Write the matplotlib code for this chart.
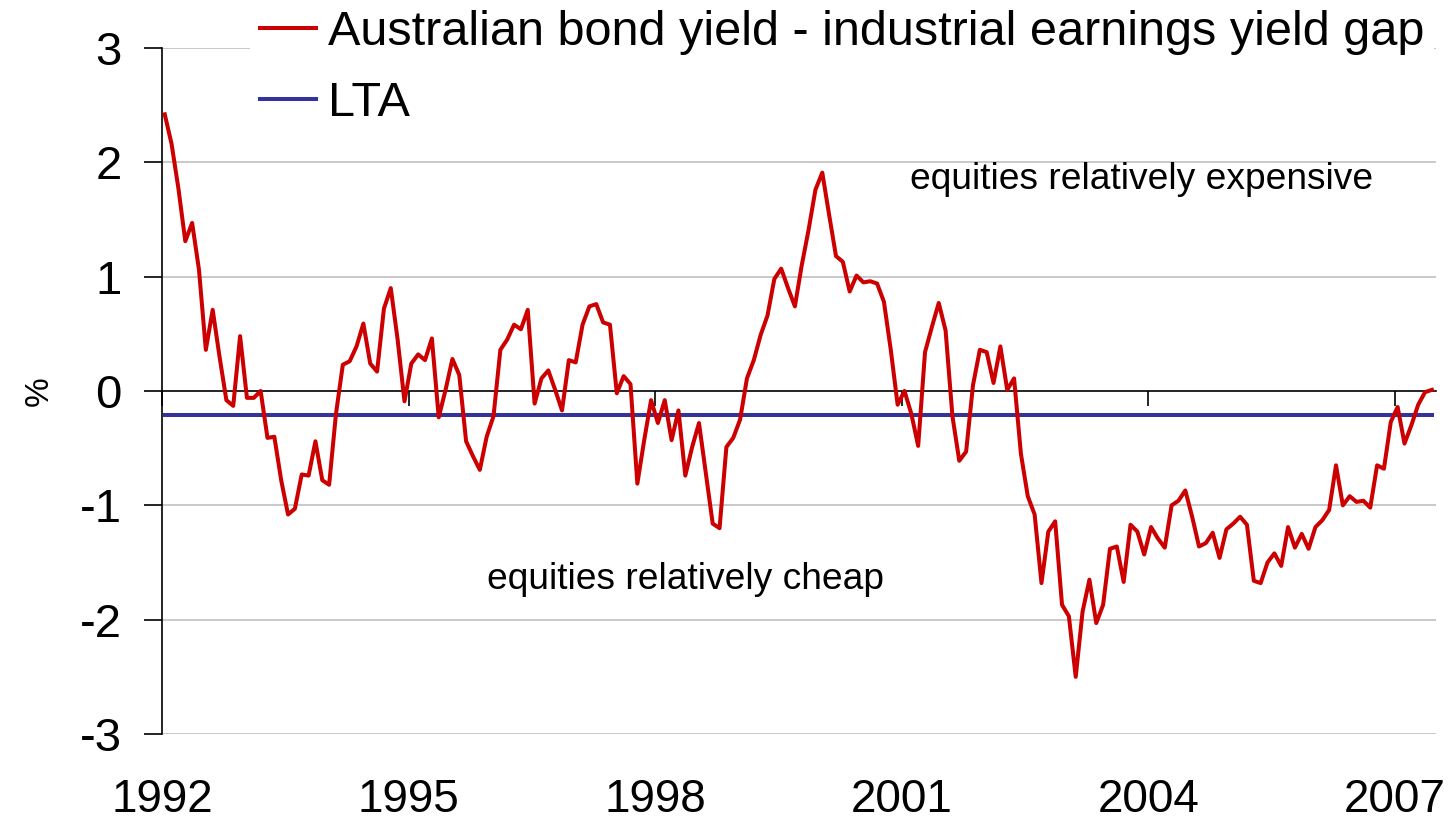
import numpy as np
import matplotlib
matplotlib.use("Agg")
import matplotlib.pyplot as plt

plt.rcParams['font.family'] = ['Liberation Sans', 'DejaVu Sans']
plt.rcParams['axes.unicode_minus'] = False

# monthly gap, Jan 1992 - Jun 2007 (% pts)
gap = [
    2.42, 2.16, 1.77, 1.31, 1.47, 1.06, 0.36, 0.71, 0.30, -0.08, -0.13, 0.48,
    -0.06, -0.06, 0.00, -0.41, -0.40, -0.78, -1.08, -1.03, -0.73, -0.74, -0.44, -0.78,
    -0.82, -0.20, 0.23, 0.26, 0.39, 0.59, 0.24, 0.17, 0.72, 0.90, 0.45, -0.09,
    0.24, 0.32, 0.27, 0.46, -0.23, 0.01, 0.28, 0.14, -0.44, -0.57, -0.69, -0.40,
    -0.22, 0.36, 0.45, 0.58, 0.54, 0.71, -0.11, 0.11, 0.18, 0.01, -0.17, 0.27,
    0.25, 0.58, 0.74, 0.76, 0.60, 0.58, -0.02, 0.13, 0.06, -0.81, -0.43, -0.08,
    -0.28, -0.08, -0.43, -0.17, -0.74, -0.49, -0.28, -0.72, -1.16, -1.20, -0.49, -0.41,
    -0.25, 0.11, 0.27, 0.49, 0.66, 0.98, 1.07, 0.90, 0.74, 1.10, 1.41, 1.76,
    1.91, 1.54, 1.18, 1.13, 0.87, 1.01, 0.95, 0.96, 0.94, 0.78, 0.36, -0.12,
    0.00, -0.20, -0.48, 0.34, 0.56, 0.77, 0.53, -0.22, -0.61, -0.53, 0.05, 0.36,
    0.34, 0.07, 0.39, 0.01, 0.11, -0.55, -0.92, -1.08, -1.68, -1.23, -1.14, -1.87,
    -1.97, -2.50, -1.93, -1.65, -2.03, -1.87, -1.38, -1.36, -1.67, -1.17, -1.23, -1.43,
    -1.19, -1.29, -1.37, -1.00, -0.96, -0.87, -1.10, -1.36, -1.33, -1.24, -1.46, -1.21,
    -1.16, -1.10, -1.17, -1.66, -1.68, -1.50, -1.42, -1.53, -1.19, -1.37, -1.25, -1.38,
    -1.19, -1.13, -1.04, -0.65, -1.00, -0.92, -0.97, -0.96, -1.02, -0.65, -0.68, -0.27,
    -0.14, -0.46, -0.30, -0.12, -0.01, 0.01,
]
lta = -0.21
year_ticks = [1992, 1995, 1998, 2001, 2004, 2007]
y_ticks = [-3, -2, -1, 0, 1, 2, 3]

# decimal years, mid-month
t = 1992 + (np.arange(len(gap)) + 0.4) / 12

fig = plt.figure(figsize=(14.53, 8.27), dpi=100)
ax = fig.add_axes([162/1453, 93/827, 1274/1453, 686/827])

for v in y_ticks:
    if v != 0:
        ax.axhline(v, color='#c0c0c0', lw=1.2, zorder=0)

ax.plot(t, gap, color='#cc0000', lw=2.9, label='Australian bond yield - industrial earnings yield gap', zorder=3)
ax.plot([t[0], t[-1]], [lta, lta], color='#333399', lw=2.9, label='LTA', zorder=2)

ax.set_xlim(1992, 2007.5)
ax.set_ylim(-3, 3)

ax.spines['top'].set_visible(False)
ax.spines['right'].set_visible(False)
ax.spines['bottom'].set_position(('data', 0))
ax.spines['bottom'].set_linewidth(1.2)
ax.spines['left'].set_linewidth(1.2)

ax.set_xticks(year_ticks)
ax.tick_params(axis='x', direction='out', length=11, width=1.2, labelbottom=False)
ax.set_yticks(y_ticks)
ax.set_yticklabels([str(v) for v in y_ticks])
ax.tick_params(axis='y', direction='out', length=13, width=1.2, pad=16, labelsize=34)

# year labels sit at the bottom of the plot area
sec = ax.secondary_xaxis('bottom')
sec.set_xticks(year_ticks)
sec.set_xticklabels([str(y) for y in year_ticks])
sec.spines['bottom'].set_visible(False)
sec.tick_params(length=0, pad=32, labelsize=33)

ax.set_ylabel('%', fontsize=24, labelpad=18)

ax.text(2001.1, 1.85, 'equities relatively expensive', fontsize=26.7, ha='left', va='center')
ax.text(1995.95, -1.65, 'equities relatively cheap', fontsize=26.7, ha='left', va='center')

leg = ax.legend(loc='upper left', bbox_to_anchor=(250/1453, 1.0), bbox_transform=fig.transFigure,
                fontsize=35, frameon=True, fancybox=False, framealpha=1, edgecolor='none',
                facecolor='white', handlelength=1.15, handletextpad=0.25, labelspacing=0.55,
                borderpad=0.2, borderaxespad=0)

fig.savefig('out.png', dpi=100)
